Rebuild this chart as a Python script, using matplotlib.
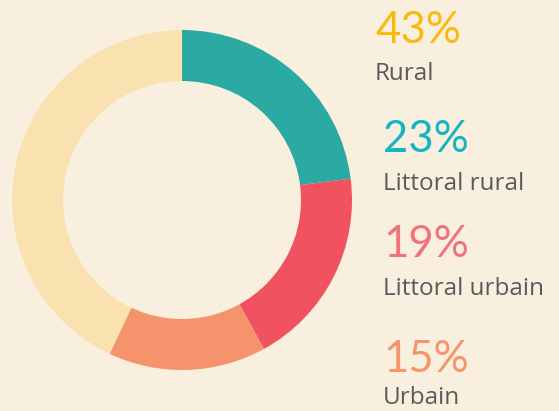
import matplotlib.pyplot as plt

# données
categories = ["Littoral rural", "Littoral urbain", "Urbain", "Rural"]
values = [23, 19, 15, 43]
colors = ["#2AAAA3", "#F15260", "#F5946C", "#FAE2B0"]

legend_order = ["Rural", "Littoral rural", "Littoral urbain", "Urbain"]
legend_colors = ["#F9B90F", "#15B4C2", "#F0737B", "#F5956C"]

bg = "#F8EFDF"
W, H = 559, 411

fig = plt.figure(figsize=(W / 100, H / 100), dpi=100, facecolor=bg)

# donut
cx, cy, r = 182, 200, 170
ax = fig.add_axes([(cx - r) / W, (H - cy - r) / H, 2 * r / W, 2 * r / H])
ax.set_facecolor(bg)
ax.pie(values, colors=colors, startangle=90, counterclock=False, radius=1,
       wedgeprops=dict(width=0.3, linewidth=0))
ax.set_xlim(-1, 1)
ax.set_ylim(-1, 1)
ax.axis("off")

# légende texte
pos = [(375, 43, 80), (383, 152, 190), (383, 257, 295), (383, 372, 404)]
for name, col, (x, y_pct, y_lab) in zip(legend_order, legend_colors, pos):
    v = values[categories.index(name)]
    fig.text(x / W, 1 - y_pct / H, f"{v}%", color=col, fontsize=31.5,
             family="Lato", va="baseline", ha="left")
    fig.text(x / W, 1 - y_lab / H, name, color="#5A5A5A", fontsize=17.5,
             family="Open Sans", va="baseline", ha="left")

fig.savefig("out.png", dpi=100, facecolor=bg)
